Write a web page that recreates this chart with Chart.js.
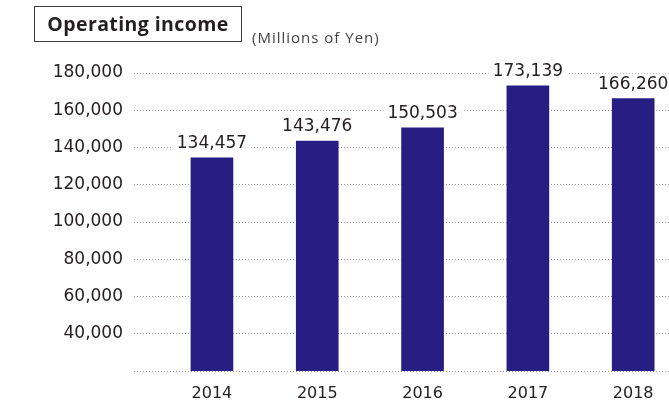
<!DOCTYPE html>
<html>
<head>
<meta charset="utf-8">
<script src="https://cdn.jsdelivr.net/npm/chart.js@4.4.1/dist/chart.umd.min.js"></script>
<style>
  html, body { margin: 0; padding: 0; background: #fff; overflow: hidden; }
  #wrap { position: relative; width: 669px; height: 402px; }
  #title {
    position: absolute; left: 34px; top: 6px; width: 206px; height: 34px;
    border: 1px solid #3a3a3a; box-sizing: content-box;
    font: bold 19.5px "Open Sans", sans-serif; color: #231f20;
    letter-spacing: 0.4px; line-height: 34px; text-align: center;
  }
  #unit {
    position: absolute; left: 252px; top: 27px;
    font: 15px "Open Sans", sans-serif; color: #444;
    letter-spacing: 1px;
  }
  canvas { position: absolute; left: 0; top: 0; }
</style>
</head>
<body>
<div id="wrap">
  <canvas id="js-income-chart" width="669" height="402"></canvas>
  <div id="title">Operating income</div>
  <div id="unit">(Millions of Yen)</div>
</div>
<script>
// data
var years = [2014, 2015, 2016, 2017, 2018];
var income = [134457, 143476, 150503, 173139, 166260];
var yTicks = [20000, 40000, 60000, 80000, 100000, 120000, 140000, 160000, 180000];

var textColor = '#262022';
var numFont = { family: 'DejaVu Sans', size: 17 };

function fmt(v) {
  return Number(v).toLocaleString('en-US');
}

// value labels above the bars, with a white backing so gridlines break around them
var valueLabels = {
  id: 'valueLabels',
  afterDatasetsDraw(chart) {
    var ctx = chart.ctx;
    var meta = chart.getDatasetMeta(0);
    ctx.save();
    ctx.font = numFont.size + 'px ' + numFont.family;
    ctx.textAlign = 'center';
    ctx.textBaseline = 'alphabetic';
    meta.data.forEach((bar, i) => {
      var txt = fmt(income[i]);
      var w = ctx.measureText(txt).width;
      var base = bar.y - 10;
      ctx.fillStyle = '#fff';
      ctx.fillRect(bar.x - w / 2 - 4, base - 15, w + 8, 18);
      ctx.fillStyle = textColor;
      ctx.fillText(txt, bar.x, base);
    });
    ctx.restore();
  }
};

var chartData = {
  datasets: [{
    label: 'Operating income',
    data: years.map((y, i) => ({ x: y, y: income[i] })),
    backgroundColor: '#271e84',
    borderWidth: 0,
    barThickness: 42
  }]
};

var chartOptions = {
  responsive: false,
  animation: false,
  layout: { padding: { top: 73, left: 0, right: 0, bottom: 0 } },
  plugins: {
    legend: { display: false },
    tooltip: { enabled: false }
  },
  scales: {
    x: {
      type: 'linear',
      offset: false,
      min: 2013.26,
      max: 2018.34,
      afterBuildTicks: s => { s.ticks = years.map(v => ({ value: v })) },
      afterFit: s => { s.height = 31 },
      grid: { display: false, drawTicks: false },
      border: { display: false },
      ticks: {
        autoSkip: false,
        maxRotation: 0,
        padding: 13,
        color: textColor,
        font: { family: 'DejaVu Sans', size: 16 },
        callback: v => String(v)
      }
    },
    y: {
      min: 20000,
      max: 180000,
      afterBuildTicks: s => { s.ticks = yTicks.map(v => ({ value: v })) },
      afterFit: s => { s.width = 134 },
      border: { display: false, dash: [1, 2] },
      grid: {
        color: '#9a9a9a',
        lineWidth: 1,
        drawTicks: false
      },
      ticks: {
        padding: 11,
        color: textColor,
        font: numFont,
        callback: v => v === 20000 ? '' : fmt(v)
      }
    }
  }
};

var incomeCanvas = document.getElementById('js-income-chart').getContext('2d');
var incomeChart = new Chart(incomeCanvas, {
  type: 'bar',
  data: chartData,
  options: chartOptions,
  plugins: [valueLabels]
});
</script>
</body>
</html>
